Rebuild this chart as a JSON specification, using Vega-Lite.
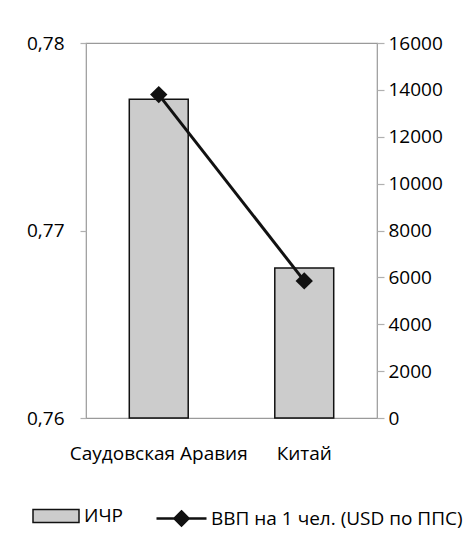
{
  "$schema": "https://vega.github.io/schema/vega-lite/v6.json",
  "width": 291,
  "height": 375,
  "autosize": "none",
  "padding": {"left": 86, "top": 43, "right": 87, "bottom": 119},
  "background": "white",
  "config": {
    "view": {"stroke": "#9a9a9a", "strokeWidth": 1.2},
    "font": "Open Sans",
    "axis": {"labelFont": "Open Sans", "labelColor": "#000", "labelFontSize": 19, "domain": false, "tickColor": "#b0b0b0", "tickWidth": 1.2, "grid": false, "title": null},
    "legend": {"labelFont": "Open Sans", "labelColor": "#000", "labelFontSize": 19, "labelLimit": 400}
  },
  "data": {
    "values": [
      {"country": "Саудовская Аравия", "hdi": 0.777, "gdp": 13800},
      {"country": "Китай", "hdi": 0.768, "gdp": 5850}
    ]
  },
  "encoding": {
    "x": {
      "field": "country", "type": "nominal", "sort": null,
      "scale": {"paddingInner": 0.595, "paddingOuter": 0.2975},
      "axis": {"labelAngle": 0, "ticks": false, "labelPadding": 26, "title": null}
    }
  },
  "layer": [
    {
      "mark": {"type": "bar", "stroke": "#111", "strokeWidth": 1.5},
      "encoding": {
        "y": {
          "field": "hdi", "type": "quantitative",
          "scale": {"domain": [0.76, 0.78], "zero": false, "nice": false},
          "axis": {"orient": "left", "values": [0.76, 0.77, 0.78], "labelExpr": "replace(format(datum.value, '.2f'), '.', ',')", "tickSize": 6, "labelPadding": 16, "title": null}
        },
        "y2": {"datum": 0.76},
        "fill": {
          "datum": "ИЧР",
          "scale": {"range": ["#cccccc"]},
          "legend": {
            "orient": "none", "legendX": -54, "legendY": 449, "title": null,
            "symbolType": "M-1,-0.28H1V0.28H-1Z", "symbolSize": 2116,
            "symbolStrokeColor": "#111", "symbolStrokeWidth": 1.5, "labelOffset": 4
          }
        }
      }
    },
    {
      "mark": {"type": "line", "strokeWidth": 3},
      "encoding": {
        "y": {
          "field": "gdp", "type": "quantitative",
          "scale": {"domain": [0, 16000], "nice": false},
          "axis": {"orient": "right", "values": [0, 2000, 4000, 6000, 8000, 10000, 12000, 14000, 16000], "format": "d", "tickSize": 7, "labelPadding": 4, "title": null}
        },
        "stroke": {
          "datum": "ВВП на 1 чел. (USD по ППС)",
          "scale": {"range": ["#111"]},
          "legend": {
            "orient": "none", "legendX": 69, "legendY": 449, "title": null,
            "symbolType": "M-1,0H1M0,-0.28L0.28,0L0,0.28L-0.28,0Z", "symbolSize": 2500,
            "labelOffset": 3,
            "encode": {"symbols": {"update": {"fill": {"value": "#111"}, "stroke": {"value": "#111"}, "strokeWidth": {"value": 2.5}}}}
          }
        }
      }
    },
    {
      "mark": {"type": "point", "shape": "diamond", "filled": true, "color": "#111", "size": 300, "opacity": 1},
      "encoding": {
        "y": {"field": "gdp", "type": "quantitative", "scale": {"domain": [0, 16000], "nice": false}, "axis": null}
      }
    }
  ],
  "resolve": {"scale": {"y": "independent"}}
}
